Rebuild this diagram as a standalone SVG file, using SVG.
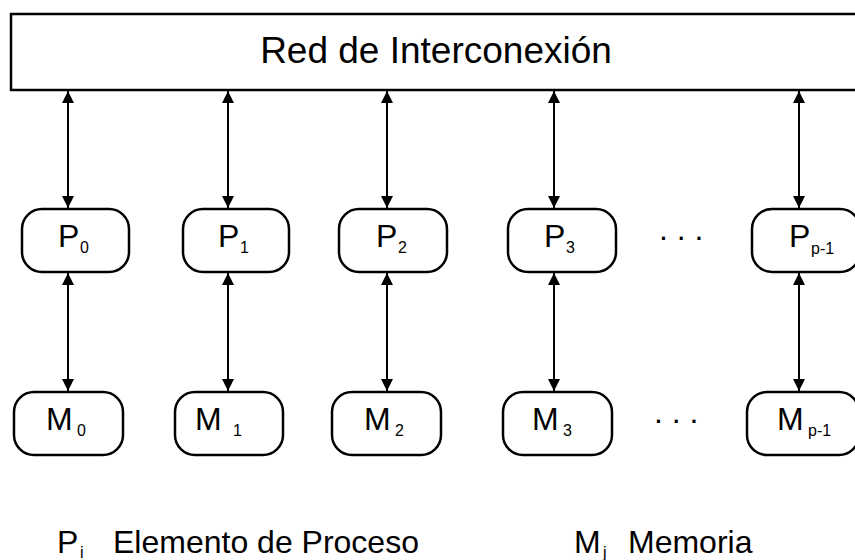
<svg xmlns="http://www.w3.org/2000/svg" width="855" height="560" viewBox="0 0 855 560">
<defs>
<marker id="ah" viewBox="0 0 12 16" refX="12" refY="8" markerWidth="12" markerHeight="16" markerUnits="userSpaceOnUse" orient="auto-start-reverse">
<path d="M0,2 L12,8 L0,14 Z" fill="#000"/>
</marker>
</defs>
<style>
.box{fill:#fff;stroke:#000;stroke-width:2.5}
.con{stroke:#000;stroke-width:2;fill:none;marker-start:url(#ah);marker-end:url(#ah)}
text{font-family:"Liberation Sans",Arial,sans-serif;fill:#000}
.lbl{font-size:32px}
.sub{font-size:16px}
.ttl{font-size:37px}
.leg{font-size:32px}
</style>
<g id="net">
<rect class="box" x="11" y="14" width="850" height="76"/>
<text class="ttl" x="436" y="63" text-anchor="middle">Red de Interconexión</text>
</g>
<g id="P0"><rect class="box" x="22" y="209" width="107" height="63" rx="20"/><text class="lbl" x="58" y="247">P</text><text class="sub" x="80" y="253">0</text></g>
<g id="P1"><rect class="box" x="183" y="209" width="106" height="63" rx="20"/><text class="lbl" x="218" y="247">P</text><text class="sub" x="240" y="253">1</text></g>
<g id="P2"><rect class="box" x="339" y="209" width="108" height="63" rx="20"/><text class="lbl" x="376" y="247">P</text><text class="sub" x="398" y="253">2</text></g>
<g id="P3"><rect class="box" x="508" y="209" width="108" height="63" rx="20"/><text class="lbl" x="544" y="247">P</text><text class="sub" x="566" y="253">3</text></g>
<g id="Pp1"><rect class="box" x="752" y="209" width="108" height="63" rx="20"/><text class="lbl" x="789" y="247">P</text><text class="sub" x="811" y="254">p-1</text></g>
<g id="M0"><rect class="box" x="14" y="392" width="109" height="63" rx="20"/><text class="lbl" x="46" y="430">M</text><text class="sub" x="77" y="436">0</text></g>
<g id="M1"><rect class="box" x="175" y="392" width="108" height="63" rx="20"/><text class="lbl" x="195" y="430">M</text><text class="sub" x="233" y="436">1</text></g>
<g id="M2"><rect class="box" x="332" y="392" width="109" height="63" rx="20"/><text class="lbl" x="364" y="430">M</text><text class="sub" x="395" y="436">2</text></g>
<g id="M3"><rect class="box" x="503" y="392" width="109" height="63" rx="20"/><text class="lbl" x="532" y="430">M</text><text class="sub" x="563" y="436">3</text></g>
<g id="Mp1"><rect class="box" x="747" y="392" width="112" height="63" rx="20"/><text class="lbl" x="777" y="430">M</text><text class="sub" x="808" y="436">p-1</text></g>
<g id="dots">
<text class="lbl" x="659" y="240">. . .</text>
<text class="lbl" x="654" y="423">. . .</text>
</g>
<g id="connectors">
<line class="con" x1="68" y1="91" x2="68" y2="208"/>
<line class="con" x1="228" y1="91" x2="228" y2="208"/>
<line class="con" x1="387" y1="91" x2="387" y2="208"/>
<line class="con" x1="554" y1="91" x2="554" y2="208"/>
<line class="con" x1="799" y1="91" x2="799" y2="208"/>
<line class="con" x1="68" y1="273" x2="68" y2="391"/>
<line class="con" x1="228" y1="273" x2="228" y2="391"/>
<line class="con" x1="387" y1="273" x2="387" y2="391"/>
<line class="con" x1="554" y1="273" x2="554" y2="391"/>
<line class="con" x1="799" y1="273" x2="799" y2="391"/>
</g>
<g id="legend">
<text class="leg" x="57" y="553">P</text><text class="sub" x="80" y="558">i</text>
<text class="leg" x="113" y="553">Elemento de Proceso</text>
<text class="leg" x="574" y="553">M</text><text class="sub" x="603" y="558">j</text>
<text class="leg" x="628" y="553">Memoria</text>
</g>
</svg>
